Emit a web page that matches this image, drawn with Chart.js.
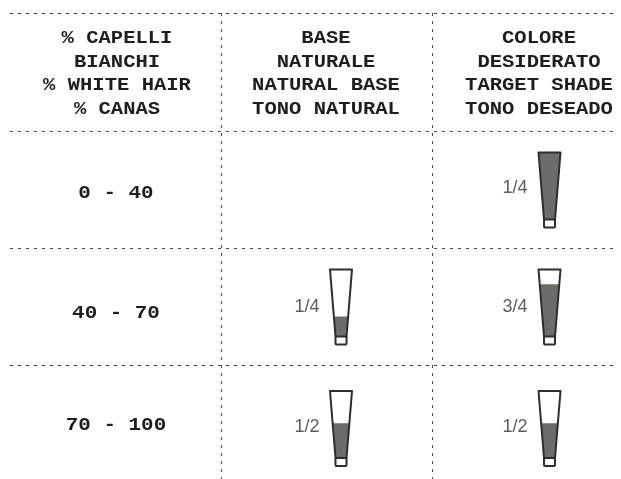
<!DOCTYPE html>
<html><head><meta charset="utf-8">
<style>html,body{margin:0;padding:0;background:#fff}canvas{display:block}</style>
<script src="https://cdn.jsdelivr.net/npm/chart.js@4"></script></head>
<body><canvas id="c" width="621" height="479"></canvas>
<script>
const columnHeaders = [
  ["% CAPELLI","BIANCHI","% WHITE HAIR","% CANAS"],
  ["BASE","NATURALE","NATURAL BASE","TONO NATURAL"],
  ["COLORE","DESIDERATO","TARGET SHADE","TONO DESEADO"]
];
const rowLabels = ["0 - 40","40 - 70","70 - 100"];
const tubeLabels = ["1/4","3/4","1/2","1/4","1/2"];
const tubeFill = [1.0,0.78,0.52,0.30,0.52];
const tubeColumn = [2,2,2,1,1];
const tubeRow = [0,1,2,1,2];

// table layout, in the scale's units
const colLines = [221,432];
const rowLines = [13,131,248,365];
const headerCentre = [117,326,539];
const rowCentre = [193.5,313.5,425.5];
const tubeX = [116,341,549.5];
const tubeY = [190,307,428.5];
const labelX = [116,307,515];
const labelY = [188,307,427];

const tubePoints = tubeFill.map((f,i)=>({x:tubeX[tubeColumn[i]],y:tubeY[tubeRow[i]]}));

function wideText(c,t,x,y,sx){
  c.save();c.translate(x,y);c.scale(sx,1);c.fillText(t,0,0);c.restore();
}

const tablePlugin = {
  id:'table',
  afterDatasetsDraw(chart){
    const c = chart.ctx, sx = chart.scales.x, sy = chart.scales.y;
    c.save();
    c.textAlign='center'; c.textBaseline='middle';
    c.fillStyle='#1e1e1e';
    c.font='bold 18px "Liberation Mono"';
    columnHeaders.forEach((lines,i)=>lines.forEach((t,j)=>{
      wideText(c,t,sx.getPixelForValue(headerCentre[i]),sy.getPixelForValue(38.5+j*23.5),1.14);
    }));
    c.font='bold 19px "Liberation Mono"';
    rowLabels.forEach((t,i)=>wideText(c,t,sx.getPixelForValue(116),sy.getPixelForValue(rowCentre[i]),1.1));
    c.font='18px "Liberation Sans"';
    c.fillStyle='#5c5c5c';
    tubeLabels.forEach((t,i)=>c.fillText(t,sx.getPixelForValue(labelX[tubeColumn[i]]),sy.getPixelForValue(labelY[tubeRow[i]])));
    // tubes
    chart.getDatasetMeta(0).data.forEach((pt,i)=>{
      const cx=pt.x, cy=pt.y, f=tubeFill[i];
      const top=cy-37.5, bot=cy+29.5, capB=cy+37.5, wt=11, wb=5.5;
      const yf=bot-(bot-top)*f, wf=wb+(wt-wb)*f;
      c.fillStyle='#6c6c69';
      c.beginPath();
      c.moveTo(cx-wf,yf);c.lineTo(cx+wf,yf);c.lineTo(cx+wb,bot);c.lineTo(cx-wb,bot);c.closePath();c.fill();
      c.strokeStyle='#2d2d2d'; c.lineWidth=2; c.lineJoin='round';
      c.beginPath();
      c.moveTo(cx-wt,top);c.lineTo(cx+wt,top);c.lineTo(cx+wb,bot);c.lineTo(cx-wb,bot);c.closePath();c.stroke();
      c.beginPath();
      c.moveTo(cx-wb,bot);c.lineTo(cx-wb,capB-1);c.quadraticCurveTo(cx-wb,capB,cx-wb+1,capB);
      c.lineTo(cx+wb-1,capB);c.quadraticCurveTo(cx+wb,capB,cx+wb,capB-1);c.lineTo(cx+wb,bot);c.stroke();
    });
    c.restore();
  }
};

new Chart(document.getElementById('c'),{
  type:'scatter',
  data:{datasets:[{data:tubePoints,pointRadius:0,pointHoverRadius:0}]},
  options:{
    responsive:false,animation:false,devicePixelRatio:1,
    layout:{padding:{left:10,right:8,top:13,bottom:0}},
    plugins:{legend:{display:false},tooltip:{enabled:false}},
    scales:{
      x:{type:'linear',min:10,max:613,
        afterBuildTicks(s){s.ticks=colLines.map(v=>({value:v}));},
        ticks:{display:false},
        border:{display:false,dash:[3,5]},
        grid:{color:'#4a4a4a',lineWidth:1,drawTicks:false}},
      y:{type:'linear',reverse:true,min:13,max:479,
        afterBuildTicks(s){s.ticks=rowLines.map(v=>({value:v}));},
        ticks:{display:false},
        border:{display:false,dash:[3,5]},
        grid:{color:'#4a4a4a',lineWidth:1,drawTicks:false}}
    }
  },
  plugins:[tablePlugin]
});
</script></body></html>
